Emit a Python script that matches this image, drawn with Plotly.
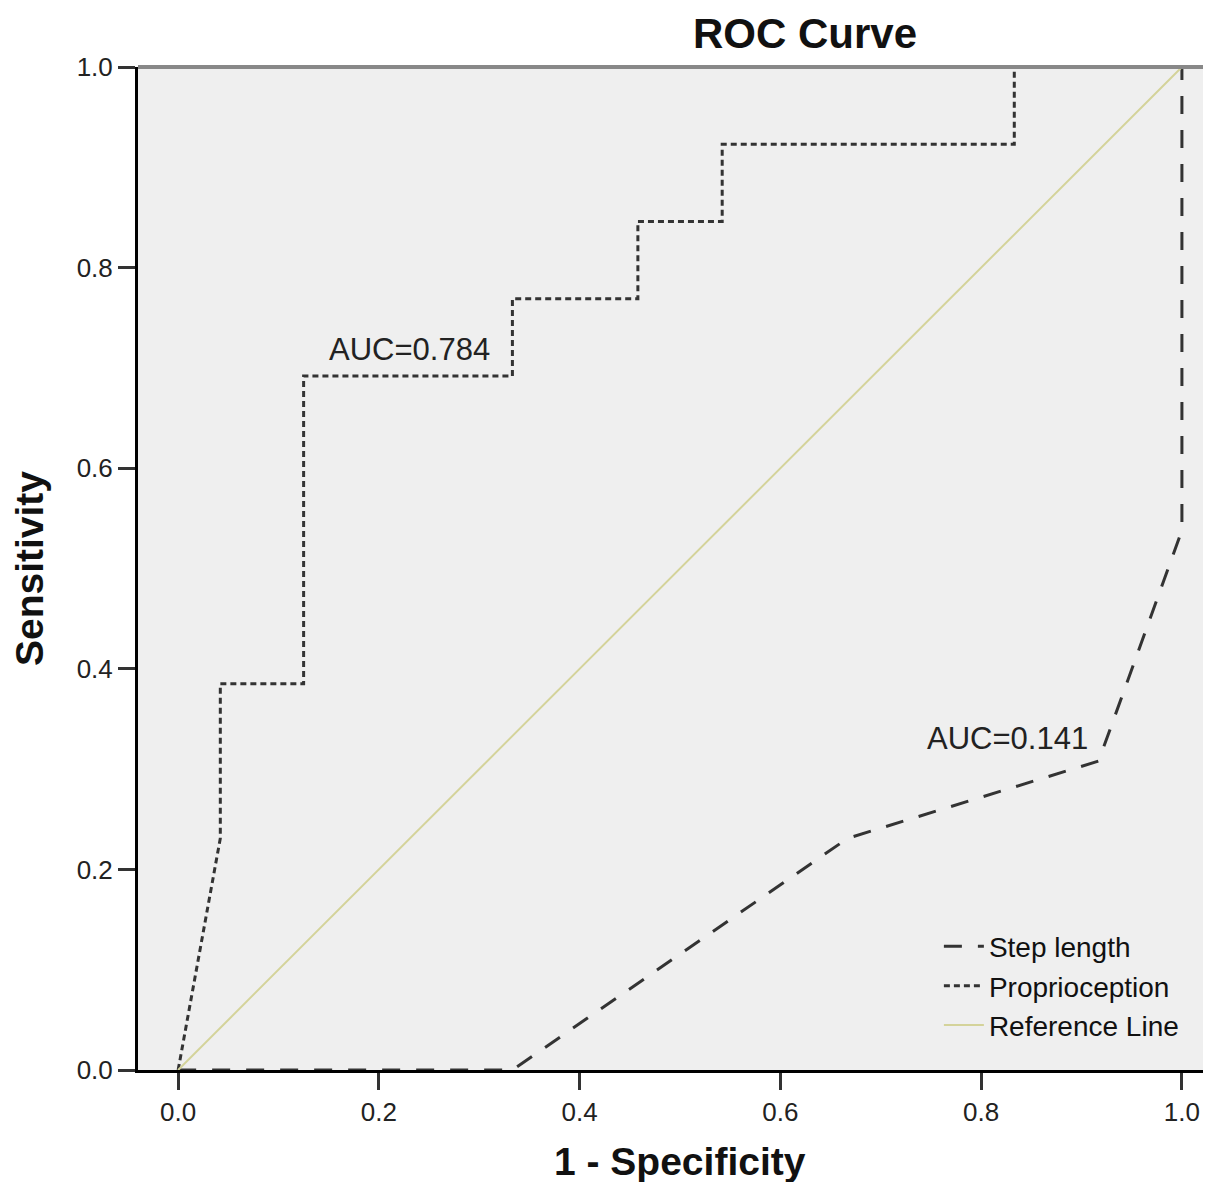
import plotly.graph_objects as go

# Data
prop_x = [0.0, 0.042, 0.042, 0.125, 0.125, 0.333, 0.333, 0.458, 0.458, 0.542, 0.542, 0.833, 0.833, 1.0]
prop_y = [0.0, 0.231, 0.385, 0.385, 0.692, 0.692, 0.769, 0.769, 0.846, 0.846, 0.923, 0.923, 1.0, 1.0]

step_x = [0.0, 0.333, 0.667, 0.917, 1.0, 1.0]
step_y = [0.0, 0.0, 0.231, 0.308, 0.538, 1.0]

ref_x = [0.0, 1.0]
ref_y = [0.0, 1.0]

tick_vals = [0.0, 0.2, 0.4, 0.6, 0.8, 1.0]
tick_text = ["0.0", "0.2", "0.4", "0.6", "0.8", "1.0"]

auc_labels = ["AUC=0.784", "AUC=0.141"]
auc_x = [0.313, 0.908]
auc_y = [0.718, 0.331]

FONT = "Liberation Sans, Arial, sans-serif"

W, H = 1195, 1174  # page body has an 8px margin in the browser

fig = go.Figure()
fig.add_trace(go.Scatter(x=step_x, y=step_y, mode="lines", name="Step length",
                         line=dict(color="#333333", width=3, dash="18px,16px")))
fig.add_trace(go.Scatter(x=prop_x, y=prop_y, mode="lines", name="Proprioception",
                         line=dict(color="#333333", width=3, dash="6px,4px")))
fig.add_trace(go.Scatter(x=ref_x, y=ref_y, mode="lines", name="Reference Line",
                         line=dict(color="#d4d39a", width=2)))

for t, x, y in zip(auc_labels, auc_x, auc_y):
    fig.add_annotation(x=x, y=y, text=t, showarrow=False, xanchor="right",
                       yanchor="middle", font=dict(family=FONT, size=31, color="#222222"))

# x-axis title
fig.add_annotation(xref="paper", yref="paper", x=0.509, y=-0.091, text="<b>1 - Specificity</b>",
                   showarrow=False, xanchor="center", yanchor="middle",
                   font=dict(family=FONT, size=39, color="#111111"))

fig.add_shape(type="line", xref="paper", yref="paper", x0=0, x1=1, y0=1, y1=1,
              line=dict(color="#888888", width=4))

fig.update_layout(
    width=W, height=H,
    margin=dict(l=130, r=0, t=59, b=112),
    paper_bgcolor="white", plot_bgcolor="#efefef",
    font=dict(family=FONT, color="#111111"),
    title=dict(text="<b>ROC Curve</b>", x=797/W, xanchor="center",
               yref="container", y=1-25/H, yanchor="middle",
               font=dict(family=FONT, size=42, color="#111111")),
    xaxis=dict(range=[-0.04, 1.021], tickvals=tick_vals, ticktext=tick_text,
               automargin=False,
               showgrid=False, zeroline=False, showline=True, linecolor="black", linewidth=3,
               ticks="outside", ticklen=17, tickwidth=3, tickcolor="#333333",
               tickfont=dict(family=FONT, size=26, color="#222222")),
    yaxis=dict(range=[0, 1], tickvals=tick_vals, ticktext=tick_text,
               automargin=False,
               showgrid=False, zeroline=False, showline=True, linecolor="black", linewidth=3,
               ticks="outside", ticklen=17, tickwidth=3, tickcolor="#333333",
               tickfont=dict(family=FONT, size=26, color="#222222"),
               title=dict(text="<b>Sensitivity</b>", standoff=30,
                          font=dict(family=FONT, size=39, color="#111111"))),
    legend=dict(x=0.752, y=0.148, xanchor="left", yanchor="top", bgcolor="rgba(0,0,0,0)",
                font=dict(family=FONT, size=28, color="#111111"), tracegroupgap=0,
                itemwidth=40),
    showlegend=True,
)

fig.write_html("out.html")
